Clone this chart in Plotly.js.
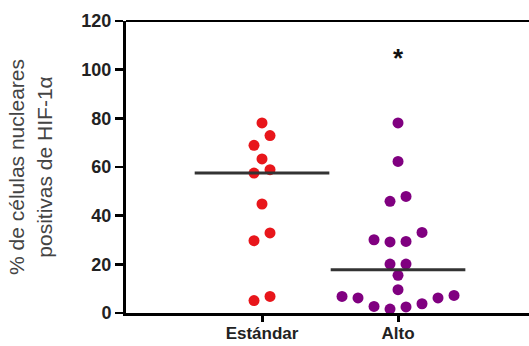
<!DOCTYPE html>
<html>
<head>
<meta charset="utf-8">
<script src="https://cdn.plot.ly/plotly-3.0.1.min.js"></script>
<style>html,body{margin:0;padding:0;background:#fff;overflow:hidden;}#chart{width:529px;height:346px;}</style>
</head>
<body>
<div id="chart"></div>
<script>
// ---- data ----
var categories = ["Estándar", "Alto"];
var estandarValues = [78.1, 72.9, 68.9, 63.3, 58.9, 57.5, 44.8, 32.9, 29.7, 5.1, 6.8];
var altoValues = [78.1, 62.3, 45.9, 47.9, 33.1, 29.4, 29.2, 30.1, 20.1, 20.1, 15.5, 9.6,
                  6.8, 6.2, 2.7, 1.6, 2.5, 3.8, 6.2, 7.2];
var yTickValues = [0, 20, 40, 60, 80, 100, 120];
var significanceLabel = "*";

// ---- layout geometry ----
var W = 529, H = 346;
var margin = {l: 126, r: 0, t: 21, b: 33};
var xRange = [0, 2.963];
var yRange = [0, 120];
var plotW = W - margin.l - margin.r;
var plotH = H - margin.t - margin.b;
var pxPerX = plotW / (xRange[1] - xRange[0]);
var pxPerY = plotH / (yRange[1] - yRange[0]);

function median(arr) {
  var s = arr.slice().sort(function(a, b) { return a - b; });
  var n = s.length;
  return n % 2 ? s[(n - 1) / 2] : (s[n / 2 - 1] + s[n / 2]) / 2;
}

// simple row-based beeswarm (like a column scatter plot)
function swarm(values, center) {
  var dotPx = 10, spacingPx = 16;
  var dy = dotPx / pxPerY;
  var dx = spacingPx / pxPerX;
  var sorted = values.slice().sort(function(a, b) { return a - b; });
  var clusters = [];
  var cur = null;
  sorted.forEach(function(v) {
    if (cur && v - cur[cur.length - 1] < dy && v - cur[0] < 1.8 * dy) {
      cur.push(v);
    } else {
      cur = [v];
      clusters.push(cur);
    }
  });
  var xs = [], ys = [];
  clusters.forEach(function(c) {
    var n = c.length;
    var slots = [];
    for (var i = 0; i < n; i++) slots.push(i - (n - 1) / 2);
    slots.sort(function(a, b) { return Math.abs(a) - Math.abs(b) || a - b; });
    c.forEach(function(v, i) {
      xs.push(center + slots[i] * dx);
      ys.push(v);
    });
  });
  return {x: xs, y: ys};
}

var s1 = swarm(estandarValues, 1);
var s2 = swarm(altoValues, 2);
var med1 = median(estandarValues);
var med2 = median(altoValues);
var halfW = 0.495;

var traces = [
  {x: s1.x, y: s1.y, type: "scatter", mode: "markers", name: categories[0],
   marker: {color: "#e8161b", size: 11}, cliponaxis: false},
  {x: s2.x, y: s2.y, type: "scatter", mode: "markers", name: categories[1],
   marker: {color: "#800080", size: 11}, cliponaxis: false},
  {x: [1 - halfW, 1 + halfW], y: [med1, med1], type: "scatter", mode: "lines",
   line: {color: "#333333", width: 3}, showlegend: false},
  {x: [2 - halfW, 2 + halfW], y: [med2, med2], type: "scatter", mode: "lines",
   line: {color: "#333333", width: 3}, showlegend: false}
];

var fam = "Liberation Sans, Arial, sans-serif";
var tickFont = {size: 18, color: "#222", family: fam, weight: "bold"};

var layout = {
  width: W, height: H,
  margin: margin,
  showlegend: false,
  font: {family: fam, color: "#222"},
  xaxis: {
    range: xRange,
    tickvals: [1, 2],
    ticktext: categories,
    showgrid: false, zeroline: false,
    showline: true, linecolor: "#000", linewidth: 3, mirror: false,
    ticks: "outside", ticklen: 6, tickwidth: 3, tickcolor: "#000",
    tickfont: {size: 17, color: "#222", family: fam, weight: "bold"},
    ticklabelstandoff: -3
  },
  yaxis: {
    range: yRange,
    tickvals: yTickValues,
    showgrid: false, zeroline: false,
    showline: true, linecolor: "#000", linewidth: 3, mirror: false,
    ticks: "outside", ticklen: 8, tickwidth: 2.5, tickcolor: "#000",
    tickfont: tickFont,
    title: {text: "% de células nucleares<br>positivas de HIF-1α",
            font: {size: 21, color: "#444", family: fam},
            standoff: 24}
  },
  shapes: [
    {type: "line", xref: "paper", yref: "paper", x0: 0, x1: 1, y0: 1, y1: 1,
     line: {color: "#000", width: 2}}
  ],
  annotations: [
    {x: 2, y: 105, xref: "x", yref: "y", text: "<b>" + significanceLabel + "</b>",
     showarrow: false, font: {size: 26, color: "#111", family: fam}}
  ]
};

Plotly.newPlot("chart", traces, layout, {displayModeBar: false, staticPlot: true});
</script>
</body>
</html>
